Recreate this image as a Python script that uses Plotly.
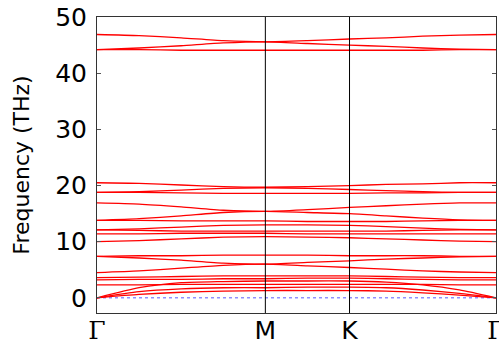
import plotly.graph_objects as go

# k-path distances (Γ - M - K - Γ), sample points along the path
k_path = [0.0, 0.25, 0.5, 0.75, 1.0, 1.25, 1.5, 1.7175, 1.935, 2.1525, 2.37]
k_high = [0.0, 1.0, 1.5, 2.37]
k_labels = ['<span style="font-family:DejaVu Serif">Γ</span>', 'M', 'K',
            '<span style="font-family:DejaVu Serif">Γ</span>']

# phonon frequencies (THz), one list per band
band_t1 = [46.9, 46.7, 46.3, 45.8, 45.6, 45.8, 46.1, 46.3, 46.6, 46.8, 46.9]
band_t2 = [44.2, 44.5, 44.9, 45.4, 45.6, 45.3, 45.0, 44.8, 44.5, 44.3, 44.2]
band_t3 = [44.2, 44.2, 44.1, 44.1, 44.1, 44.1, 44.1, 44.1, 44.1, 44.2, 44.2]
band_a = [20.5, 20.4, 20.1, 19.8, 19.7, 19.8, 20.0, 20.2, 20.3, 20.5, 20.5]
band_b = [18.8, 18.9, 19.2, 19.5, 19.6, 19.5, 19.3, 19.1, 18.9, 18.8, 18.8]
band_c = [18.8, 18.8, 18.7, 18.6, 18.6, 18.6, 18.6, 18.7, 18.7, 18.8, 18.8]
band_e = [16.9, 16.7, 16.2, 15.6, 15.4, 15.7, 16.1, 16.4, 16.7, 16.9, 16.9]
band_d = [13.8, 14.1, 14.6, 15.2, 15.4, 15.2, 15.0, 14.6, 14.2, 13.9, 13.8]
band_f = [13.8, 13.8, 13.7, 13.7, 13.7, 13.6, 13.6, 13.6, 13.7, 13.8, 13.8]
band_g = [12.1, 12.3, 12.6, 12.9, 13.0, 13.0, 12.9, 12.7, 12.4, 12.2, 12.1]
band_h = [12.1, 12.0, 11.9, 11.9, 11.9, 11.9, 11.9, 11.9, 12.0, 12.1, 12.1]
band_i = [11.4, 11.4, 11.5, 11.5, 11.5, 11.4, 11.4, 11.4, 11.4, 11.4, 11.4]
band_j = [10.0, 10.2, 10.5, 10.8, 10.9, 10.8, 10.7, 10.5, 10.3, 10.1, 10.0]
band_k1 = [7.4, 7.5, 7.5, 7.6, 7.6, 7.6, 7.5, 7.5, 7.5, 7.4, 7.4]
band_k2 = [7.4, 7.1, 6.7, 6.2, 6.0, 6.3, 6.6, 6.9, 7.1, 7.3, 7.4]
band_k3 = [4.5, 4.8, 5.3, 5.8, 6.0, 5.7, 5.4, 5.1, 4.8, 4.6, 4.5]
band_l1 = [3.6, 3.7, 3.8, 3.9, 3.9, 3.9, 3.9, 3.8, 3.7, 3.6, 3.6]
band_l2 = [3.2, 3.3, 3.3, 3.4, 3.4, 3.5, 3.5, 3.4, 3.3, 3.2, 3.2]
band_l3 = [2.3, 2.3, 2.4, 2.4, 2.4, 2.4, 2.4, 2.4, 2.4, 2.3, 2.3]
band_ac1 = [0.0, 1.8, 2.7, 2.9, 3.0, 3.0, 3.0, 2.8, 2.3, 1.4, 0.0]
band_ac2 = [0.0, 1.1, 1.6, 1.8, 1.8, 1.9, 1.9, 1.8, 1.4, 0.8, 0.0]
band_ac3 = [0.0, 0.6, 1.0, 1.2, 1.3, 1.3, 1.3, 1.2, 0.9, 0.5, 0.0]

bands = [band_t1, band_t2, band_t3, band_a, band_b, band_c, band_e, band_d,
         band_f, band_g, band_h, band_i, band_j, band_k1, band_k2, band_k3,
         band_l1, band_l2, band_l3, band_ac1, band_ac2, band_ac3]

y_ticks = [0, 10, 20, 30, 40, 50]
y_range = [-2.7, 50.02]

fig = go.Figure()
for b in bands:
    fig.add_trace(go.Scatter(x=k_path, y=b, mode="lines",
                             line=dict(color="red", width=1.3, shape="spline", smoothing=0.6),
                             hoverinfo="skip", showlegend=False))

# vertical lines at high-symmetry points
for kx in k_high[1:-1]:
    fig.add_shape(type="line", xref="x", yref="paper", x0=kx, x1=kx, y0=0, y1=1,
                  line=dict(color="black", width=1))
# zero-frequency reference line
fig.add_shape(type="line", xref="paper", yref="y", x0=0, x1=1, y0=0, y1=0,
              line=dict(color="#5a5aff", width=1, dash="dot"), layer="below")

fig.update_layout(
    width=499, height=347,
    margin=dict(l=97, r=3, t=17, b=34),
    paper_bgcolor="white", plot_bgcolor="white",
    font=dict(family="DejaVu Sans", color="black"),
    xaxis=dict(range=[k_high[0], k_high[-1]], tickvals=k_high, ticktext=k_labels,
               showgrid=False, zeroline=False, showline=True, mirror=True,
               linecolor="#333", linewidth=1, ticks="", tickfont=dict(size=25),
               ticklabelstandoff=-5, automargin=False, ticklabeloverflow="allow"),
    yaxis=dict(range=y_range, tickvals=y_ticks, showgrid=False, zeroline=False,
               showline=True, mirror="ticks", linecolor="#333", linewidth=1,
               ticks="inside", ticklen=4, tickcolor="#555", tickfont=dict(size=25),
               ticklabelstandoff=4, automargin=False, ticklabeloverflow="allow",
               title=dict(text="Frequency (THz)", font=dict(size=22), standoff=19)),
)

fig.write_html("out.html", config={"displayModeBar": False},
               post_script="document.body.style.margin='0px';document.body.style.overflow='hidden';")
